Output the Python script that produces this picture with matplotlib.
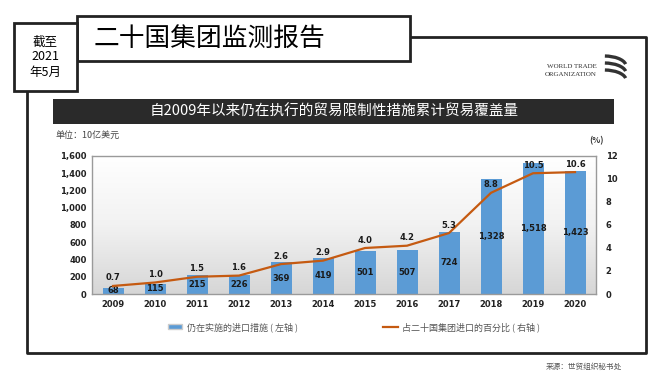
import numpy as np
import matplotlib
matplotlib.use("Agg")
import matplotlib.pyplot as plt
from matplotlib.patches import Rectangle, Arc
from matplotlib.lines import Line2D

plt.rcParams['font.family'] = ['Noto Sans CJK SC', 'DejaVu Sans']

# data
years = ['2009', '2010', '2011', '2012', '2013', '2014',
         '2015', '2016', '2017', '2018', '2019', '2020']
trade_cov = [68, 115, 215, 226, 369, 419, 501, 507, 724, 1328, 1518, 1423]
share_pct = [0.7, 1.0, 1.5, 1.6, 2.6, 2.9, 4.0, 4.2, 5.3, 8.8, 10.5, 10.6]
left_ticks = [0, 200, 400, 600, 800, 1000, 1200, 1400, 1600]
right_ticks = [0, 2, 4, 6, 8, 10, 12]

W, H = 669, 382
fig = plt.figure(figsize=(W / 100, H / 100), dpi=100)
fig.patch.set_facecolor('white')

# overlay in pixel coords for the report frame
ov = fig.add_axes([0, 0, 1, 1])
ov.set_xlim(0, W)
ov.set_ylim(H, 0)
ov.axis('off')

dark = '#222222'
# outer frame
ov.plot([410, 646, 646, 27, 27], [37, 37, 353, 353, 91], color=dark, lw=2, solid_capstyle='butt')
# title box and date box
ov.add_patch(Rectangle((77, 16), 333, 45, fill=True, fc='white', ec=dark, lw=2))
ov.add_patch(Rectangle((14, 23), 63, 68, fill=True, fc='white', ec=dark, lw=2))
ov.text(94, 39, '二十国集团监测报告', fontsize=18.5, ha='left', va='center', color='black',
        weight='medium')
ov.text(45.5, 57, '截至\n2021\n年5月', fontsize=9, ha='center', va='center',
        color='black', linespacing=1.2, weight='medium')

# WTO logo
ov.text(597, 67, 'WORLD TRADE', fontsize=5, family='Liberation Serif', ha='right', va='center', color='#333333')
ov.text(597, 74, 'ORGANIZATION', fontsize=5, family='Liberation Serif', ha='right', va='center', color='#333333')
for yc in [60, 67, 74]:
    ov.add_patch(Arc((604, yc + 6), 44, 20, angle=0, theta1=-85, theta2=-5,
                     lw=2.4, color='#333333'))

# banner
ov.add_patch(Rectangle((53, 99), 561, 25, fc='#2a2a2a', ec='none'))
ov.text(334, 111.5, '自2009年以来仍在执行的贸易限制性措施累计贸易覆盖量', fontsize=10.5,
        ha='center', va='center', color='white', weight='medium')
ov.text(55, 135, '单位：10亿美元', fontsize=6.5, ha='left', va='center', color='#444444')
ov.text(597, 141, '(%)', fontsize=6, ha='center', va='center', color='#333333', weight='bold')
ov.text(622, 367, '来源：世贸组织秘书处', fontsize=5.5, ha='right', va='center', color='#555555')

# chart
ax = fig.add_axes([92 / W, 1 - 294 / H, 504 / W, 138 / H])
x = np.arange(len(years))

grad = np.linspace(0, 1, 256).reshape(-1, 1)
ax.imshow(grad, extent=[0, 1, 0, 1], transform=ax.transAxes, aspect='auto',
          cmap=matplotlib.colors.LinearSegmentedColormap.from_list('g', ['#d6d6d6', '#f2f2f2', '#ffffff']),
          origin='lower', zorder=0)

bar_col = '#5b9bd5'
ax.bar(x, trade_cov, width=0.5, color=bar_col, zorder=2)
ax.set_xlim(-0.5, len(years) - 0.5)
ax.set_ylim(0, 1600)
ax.set_yticks(left_ticks)
ax.set_yticklabels([f'{v:,}' for v in left_ticks])
ax.set_xticks(x)
ax.set_xticklabels(years)
for lab in ax.get_xticklabels() + ax.get_yticklabels():
    lab.set_fontweight('bold')
    lab.set_fontfamily('DejaVu Sans')
    lab.set_fontsize(6)
    lab.set_color('#222222')
ax.tick_params(length=0, pad=4)
for s in ax.spines.values():
    s.set_color('#9a9a9a')
    s.set_linewidth(1)

for xi, v in zip(x, trade_cov):
    ax.text(xi, v / 2 if v > 150 else v / 2 + 12, f'{v:,}', ha='center', va='center', fontsize=6,
            weight='bold', family='DejaVu Sans', color='#1a1a1a', zorder=5)

ax2 = ax.twinx()
line_col = '#c55a11'
ax2.plot(x, share_pct, color=line_col, lw=1.6, zorder=3)
ax2.set_ylim(0, 12)
ax2.set_yticks(right_ticks)
for lab in ax2.get_yticklabels():
    lab.set_fontweight('bold')
    lab.set_fontfamily('DejaVu Sans')
    lab.set_fontsize(6)
    lab.set_color('#222222')
ax2.tick_params(length=0, pad=7)
for s in ax2.spines.values():
    s.set_visible(False)
for xi, v in zip(x, share_pct):
    ax2.annotate(f'{v:.1f}', (xi, v), xytext=(0, 2.5), textcoords='offset points',
                 ha='center', va='bottom', fontsize=6, weight='bold', family='DejaVu Sans',
                 color='#1a1a1a')

handles = [Rectangle((0, 0), 1, 1, fc=bar_col, ec='#cccccc'),
           Line2D([0], [0], color=line_col, lw=1.6)]
labels = ['仍在实施的进口措施 ( 左轴 )', '占二十国集团进口的百分比 ( 右轴 )']
leg = fig.legend(handles, labels, loc='center', bbox_to_anchor=(354 / W, 1 - 327 / H), ncol=2,
                 frameon=False, fontsize=6.5, columnspacing=9.5, handlelength=1.6,
                 handleheight=0.5, handletextpad=0.5)
for t in leg.get_texts():
    t.set_color('#555555')

fig.savefig('out.png', dpi=100, facecolor='white')
